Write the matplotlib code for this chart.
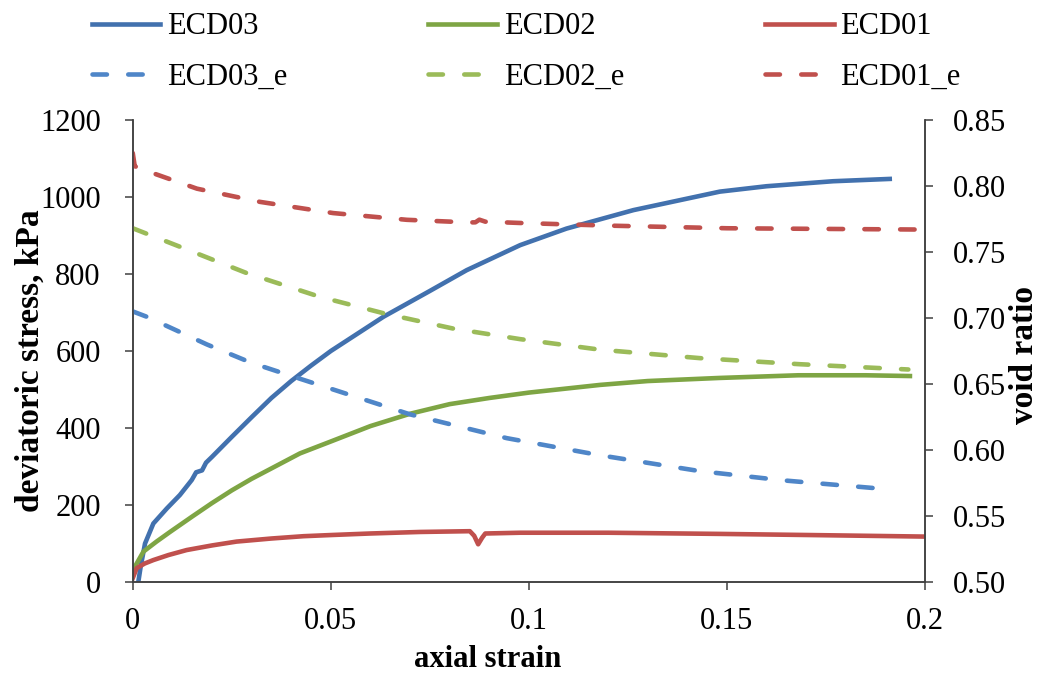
import matplotlib
matplotlib.use("Agg")
import matplotlib.pyplot as plt

# deviatoric stress (kPa) vs axial strain
ecd03_x = [0.0014, 0.002, 0.0031, 0.0052, 0.0086, 0.0119, 0.0149, 0.016, 0.0175,
           0.0185, 0.020, 0.025, 0.030, 0.035, 0.040, 0.045, 0.050, 0.0633, 0.075,
           0.0843, 0.0978, 0.1095, 0.1264, 0.1482, 0.160, 0.1768, 0.1911]
ecd03_q = [0, 40, 100, 152, 191, 226, 265, 285, 290, 310, 325, 377, 428, 478, 522,
           562, 600, 689, 756, 810, 875, 918, 966, 1014, 1028, 1041, 1047]

ecd02_x = [0.0, 0.0027, 0.006, 0.0094, 0.015, 0.020, 0.025, 0.030, 0.035, 0.0422,
           0.050, 0.060, 0.070, 0.080, 0.090, 0.100, 0.118, 0.130, 0.148, 0.168,
           0.185, 0.1962]
ecd02_q = [30, 79, 105, 130, 170, 205, 238, 268, 295, 334, 365, 405, 437, 462, 478,
           492, 512, 522, 530, 537, 537, 535]

ecd01_x = [0.0, 0.001, 0.003, 0.0052, 0.009, 0.0136, 0.020, 0.0262, 0.035, 0.0431,
           0.050, 0.0599, 0.0725, 0.0851, 0.0862, 0.0872, 0.0882, 0.089, 0.0978,
           0.120, 0.148, 0.171, 0.200]
ecd01_q = [10, 36, 48, 57, 70, 83, 95, 105, 113, 119, 122, 126, 130, 132, 120, 98,
           115, 126, 128, 128, 125, 122, 118]

# void ratio vs axial strain
ecd03e_x = [0.0, 0.0035, 0.0187, 0.030, 0.0422, 0.070, 0.0944, 0.118, 0.1432,
            0.1642, 0.1878]
ecd03e_e = [0.705, 0.701, 0.680, 0.666, 0.654, 0.627, 0.609, 0.596, 0.584,
            0.577, 0.571]

ecd02e_x = [0.0, 0.0119, 0.0288, 0.0473, 0.0641, 0.0809, 0.0978, 0.118, 0.1432,
            0.1684, 0.1958]
ecd02e_e = [0.768, 0.754, 0.734, 0.716, 0.703, 0.692, 0.684, 0.676, 0.6696,
            0.665, 0.661]

ecd01e_x = [0.0, 0.0005, 0.0039, 0.0162, 0.0321, 0.0506, 0.0692, 0.085, 0.0865,
            0.0875, 0.089, 0.0978, 0.120, 0.150, 0.175, 0.200]
ecd01e_e = [0.825, 0.815, 0.811, 0.798, 0.788, 0.7795, 0.7744, 0.7724, 0.7725,
            0.7745, 0.773, 0.772, 0.770, 0.768, 0.7675, 0.767]

plt.rcParams["font.family"] = ["Liberation Serif", "DejaVu Serif"]
plt.rcParams["font.size"] = 22

fig = plt.figure(figsize=(10.42, 6.8), dpi=100)
ax = fig.add_axes([0.1274, 0.1441, 0.7603, 0.6794])
ax2 = ax.twinx()

lw = 3.3
dash = dict(linestyle=(0, (3.15, 4.65)), dash_capstyle="round")

l3, = ax.plot(ecd03_x, ecd03_q, color="#4271AE", lw=lw, label="ECD03")
l2, = ax.plot(ecd02_x, ecd02_q, color="#7EA544", lw=lw, label="ECD02")
l1, = ax.plot(ecd01_x, ecd01_q, color="#C0504D", lw=lw, label="ECD01")
e3, = ax2.plot(ecd03e_x, ecd03e_e, color="#4F86C8", lw=lw, label="ECD03_e", **dash)
e2, = ax2.plot(ecd02e_x, ecd02e_e, color="#9BBB59", lw=lw, label="ECD02_e", **dash)
e1, = ax2.plot(ecd01e_x, ecd01e_e, color="#C0504D", lw=lw, label="ECD01_e", **dash)

ax.set_xlim(0, 0.2)
ax.set_ylim(0, 1200)
ax2.set_ylim(0.5, 0.85)
ax.set_xticks([0, 0.05, 0.1, 0.15, 0.2])
ax.set_xticklabels(["0", "0.05", "0.1", "0.15", "0.2"])
ax.set_yticks(range(0, 1201, 200))
ax2.set_yticks([0.5 + 0.05 * i for i in range(8)])
ax2.set_yticklabels([f"{0.5 + 0.05 * i:.2f}" for i in range(8)])

spine_c = "#404040"
for a in (ax, ax2):
    for side, sp in a.spines.items():
        sp.set_color(spine_c)
        sp.set_linewidth(1.1)
    a.spines["top"].set_visible(False)
ax.tick_params(axis="x", direction="out", length=6, width=1.1, color=spine_c, pad=12)
ax.tick_params(axis="y", direction="out", length=6, width=1.1, color=spine_c, pad=17)
ax2.tick_params(axis="y", direction="out", length=6, width=1.1, color=spine_c, pad=14)

fig.text(0.029, 0.469, "deviatoric stress, kPa", rotation=90, ha="center",
         va="center", fontweight="bold", fontsize=24)
fig.text(0.983, 0.478, "void ratio", rotation=90, ha="center", va="center",
         fontweight="bold", fontsize=24)
fig.text(0.468, 0.03, "axial strain", ha="center", va="center", fontweight="bold")

fig.legend(handles=[l3, e3, l2, e2, l1, e1], ncol=3, frameon=False,
           loc="center", bbox_to_anchor=(0.505, 0.9234), handlelength=2.25,
           handletextpad=0.23, columnspacing=4.6, labelspacing=0.71)

fig.savefig("out.png", dpi=100)
